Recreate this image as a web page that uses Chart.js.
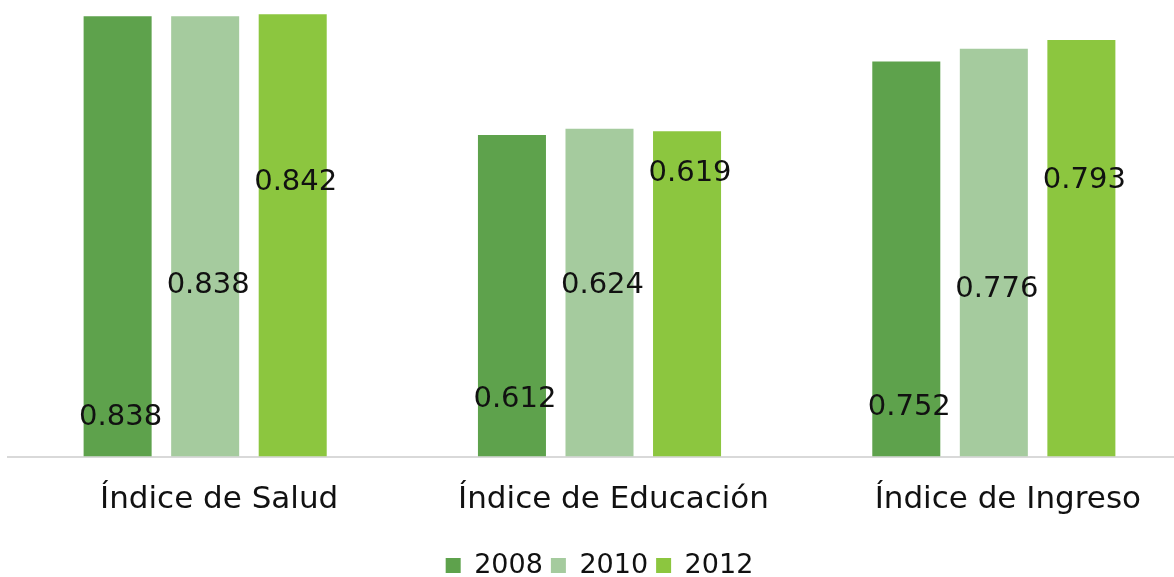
<!DOCTYPE html>
<html>
<head>
<meta charset="utf-8">
<script src="https://cdn.jsdelivr.net/npm/chart.js@4/dist/chart.umd.min.js"></script>
<style>
    html, body { margin: 0; padding: 0; background: #fff; overflow: hidden; }
    .chart-wrapper { position: relative; width: 1200px; height: 589px; }
</style>
</head>
<body>
<div class="chart-wrapper"><canvas id="idhChart"></canvas></div>
<script>
var categories = ['Índice de Salud', 'Índice de Educación', 'Índice de Ingreso'];
var years = ['2008', '2010', '2012'];
var values2008 = [0.838, 0.612, 0.752];
var values2010 = [0.838, 0.624, 0.776];
var values2012 = [0.842, 0.619, 0.793];

(function () {
    'use strict';

    var FONT = '"DejaVu Sans", "Noto Sans", sans-serif';
    var colors = ['#5EA24C', '#A5CB9E', '#8CC63F'];
    // label height above the baseline, px, per year
    var labelLift = [[39, 57, 49], [171, 171, 167], [274, 283, 276]];

    var valueLabels = {
        id: 'valueLabels',
        afterDatasetsDraw: function (chart) {
            var ctx = chart.ctx;
            var base = chart.scales.y.getPixelForValue(0);
            ctx.save();
            ctx.font = '29px ' + FONT;
            ctx.fillStyle = '#111';
            ctx.textAlign = 'center';
            ctx.textBaseline = 'middle';
            chart.data.datasets.forEach(function (ds, di) {
                chart.getDatasetMeta(di).data.forEach(function (bar, i) {
                    ctx.fillText(ds.data[i].toFixed(3), bar.x + 3, base - labelLift[di][i]);
                });
            });
            ctx.restore();
        }
    };

    new Chart(document.getElementById('idhChart'), {
        type: 'bar',
        data: {
            labels: categories,
            datasets: [
                { label: years[0], data: values2008, backgroundColor: colors[0] },
                { label: years[1], data: values2010, backgroundColor: colors[1] },
                { label: years[2], data: values2012, backgroundColor: colors[2] }
            ]
        },
        options: {
            responsive: true,
            maintainAspectRatio: false,
            animation: false,
            categoryPercentage: 0.666,
            barPercentage: 0.777,
            layout: { padding: { left: 8, right: 9, top: 0, bottom: 0 } },
            scales: {
                x: {
                    grid: { display: false },
                    border: { color: '#D9D9D9', width: 2 },
                    ticks: { color: '#111', font: { family: FONT, size: 31 }, padding: 17, labelOffset: 14 }
                },
                y: {
                    display: false,
                    min: 0,
                    max: 0.869
                }
            },
            plugins: {
                legend: {
                    position: 'bottom',
                    title: { display: true, text: '', font: { size: 1 }, padding: { top: 0, bottom: 7 } },
                    labels: {
                        color: '#111',
                        font: { family: FONT, size: 27 },
                        boxWidth: 15,
                        boxHeight: 15,
                        padding: 8
                    }
                },
                tooltip: { enabled: false }
            }
        },
        plugins: [valueLabels]
    });
})();
</script>
</body>
</html>
